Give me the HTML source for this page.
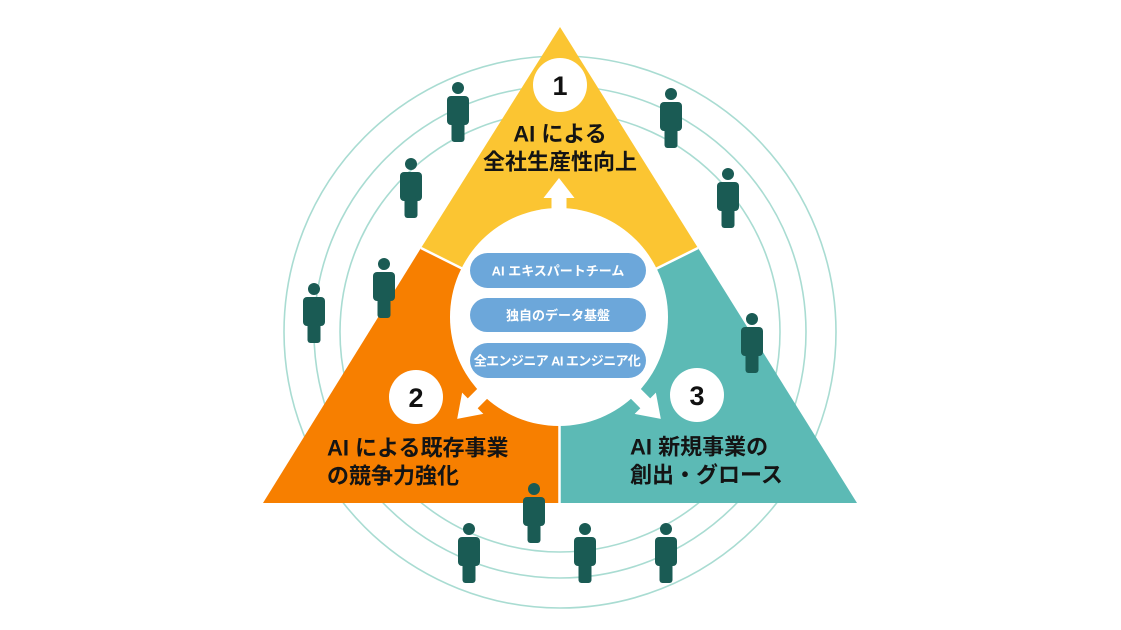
<!DOCTYPE html>
<html>
<head>
<meta charset="utf-8">
<style>
html,body{margin:0;padding:0;background:#fff;}
body{width:1121px;height:630px;overflow:hidden;}
svg{display:block;}
.lbl{font-family:"Liberation Sans","Noto Sans CJK JP",sans-serif;font-weight:700;font-size:22px;fill:#141414;}
.num{font-family:"Liberation Sans",sans-serif;font-weight:700;font-size:27px;fill:#111;}
.pill{font-family:"Liberation Sans","Noto Sans CJK JP",sans-serif;font-weight:700;font-size:13px;fill:#fff;}
</style>
</head>
<body>
<svg width="1121" height="630" viewBox="0 0 1121 630" xmlns="http://www.w3.org/2000/svg">
  <defs>
    <g id="p">
      <circle cx="0" cy="6" r="6"/>
      <rect x="-11" y="14" width="22" height="29" rx="4"/>
      <rect x="-6.5" y="38" width="13" height="22" rx="3"/>
    </g>
  </defs>
  <rect width="1121" height="630" fill="#fff"/>
  <!-- concentric circles -->
  <g fill="none" stroke="#a9dcd2" stroke-width="1.6">
    <circle cx="560" cy="332" r="220"/>
    <circle cx="560" cy="332" r="246"/>
    <circle cx="560" cy="332" r="276"/>
  </g>
  <!-- triangle segments -->
  <polygon points="560,27 698,248 559,317 421,248" fill="#fbc532"/>
  <polygon points="421,248 559,317 559,503 263,503" fill="#f77f00"/>
  <polygon points="698,248 559,317 559,503 857,503" fill="#5cbab5"/>
  <g stroke="#fff" stroke-width="2.5">
    <line x1="421" y1="248" x2="559" y2="317"/>
    <line x1="698" y1="248" x2="559" y2="317"/>
    <line x1="559.5" y1="317" x2="559.5" y2="504"/>
  </g>
  <!-- center circle -->
  <circle cx="559" cy="317" r="109" fill="#fff"/>
  <!-- arrows -->
  <g fill="#fff">
    <g transform="translate(559,317) rotate(-90)">
      <polygon points="95,-7.5 119,-7.5 119,-15.5 139,0 119,15.5 119,7.5 95,7.5"/>
    </g>
    <g transform="translate(559,317) rotate(135)">
      <polygon points="95,-7 122,-7 122,-15 144,0 122,15 122,7 95,7"/>
    </g>
    <g transform="translate(559,317) rotate(45)">
      <polygon points="95,-7 122,-7 122,-15 144,0 122,15 122,7 95,7"/>
    </g>
  </g>
  <!-- pills -->
  <g fill="#6ca7da">
    <rect x="470" y="253" width="176" height="35" rx="17.5"/>
    <rect x="470" y="298" width="176" height="34" rx="17"/>
    <rect x="470" y="343" width="176" height="35" rx="17.5"/>
  </g>
  <text class="pill" x="558" y="271" text-anchor="middle" dominant-baseline="central">AI エキスパートチーム</text>
  <text class="pill" x="558" y="315.5" text-anchor="middle" dominant-baseline="central">独自のデータ基盤</text>
  <text class="pill" x="557" y="361" text-anchor="middle" dominant-baseline="central" letter-spacing="-0.6">全エンジニア AI エンジニア化</text>
  <!-- number circles -->
  <g fill="#fff">
    <circle cx="560" cy="85" r="27"/>
    <circle cx="416" cy="397" r="27"/>
    <circle cx="697" cy="395" r="27"/>
  </g>
  <text class="num" x="560" y="86" text-anchor="middle" dominant-baseline="central">1</text>
  <text class="num" x="416" y="398" text-anchor="middle" dominant-baseline="central">2</text>
  <text class="num" x="697" y="396" text-anchor="middle" dominant-baseline="central">3</text>
  <!-- labels -->
  <text class="lbl" x="560" y="134" text-anchor="middle" dominant-baseline="central">AI による</text>
  <text class="lbl" x="560" y="162" text-anchor="middle" dominant-baseline="central">全社生産性向上</text>
  <text class="lbl" x="327" y="448" dominant-baseline="central">AI による既存事業</text>
  <text class="lbl" x="327" y="476" dominant-baseline="central">の競争力強化</text>
  <text class="lbl" x="630" y="447" dominant-baseline="central">AI 新規事業の</text>
  <text class="lbl" x="630" y="475" dominant-baseline="central">創出・グロース</text>
  <!-- people -->
  <g fill="#1a5b54">
    <use href="#p" x="458" y="82"/>
    <use href="#p" x="671" y="88"/>
    <use href="#p" x="411" y="158"/>
    <use href="#p" x="728" y="168"/>
    <use href="#p" x="384" y="258"/>
    <use href="#p" x="314" y="283"/>
    <use href="#p" x="752" y="313"/>
    <use href="#p" x="534" y="483"/>
    <use href="#p" x="469" y="523"/>
    <use href="#p" x="585" y="523"/>
    <use href="#p" x="666" y="523"/>
  </g>
</svg>
</body>
</html>
